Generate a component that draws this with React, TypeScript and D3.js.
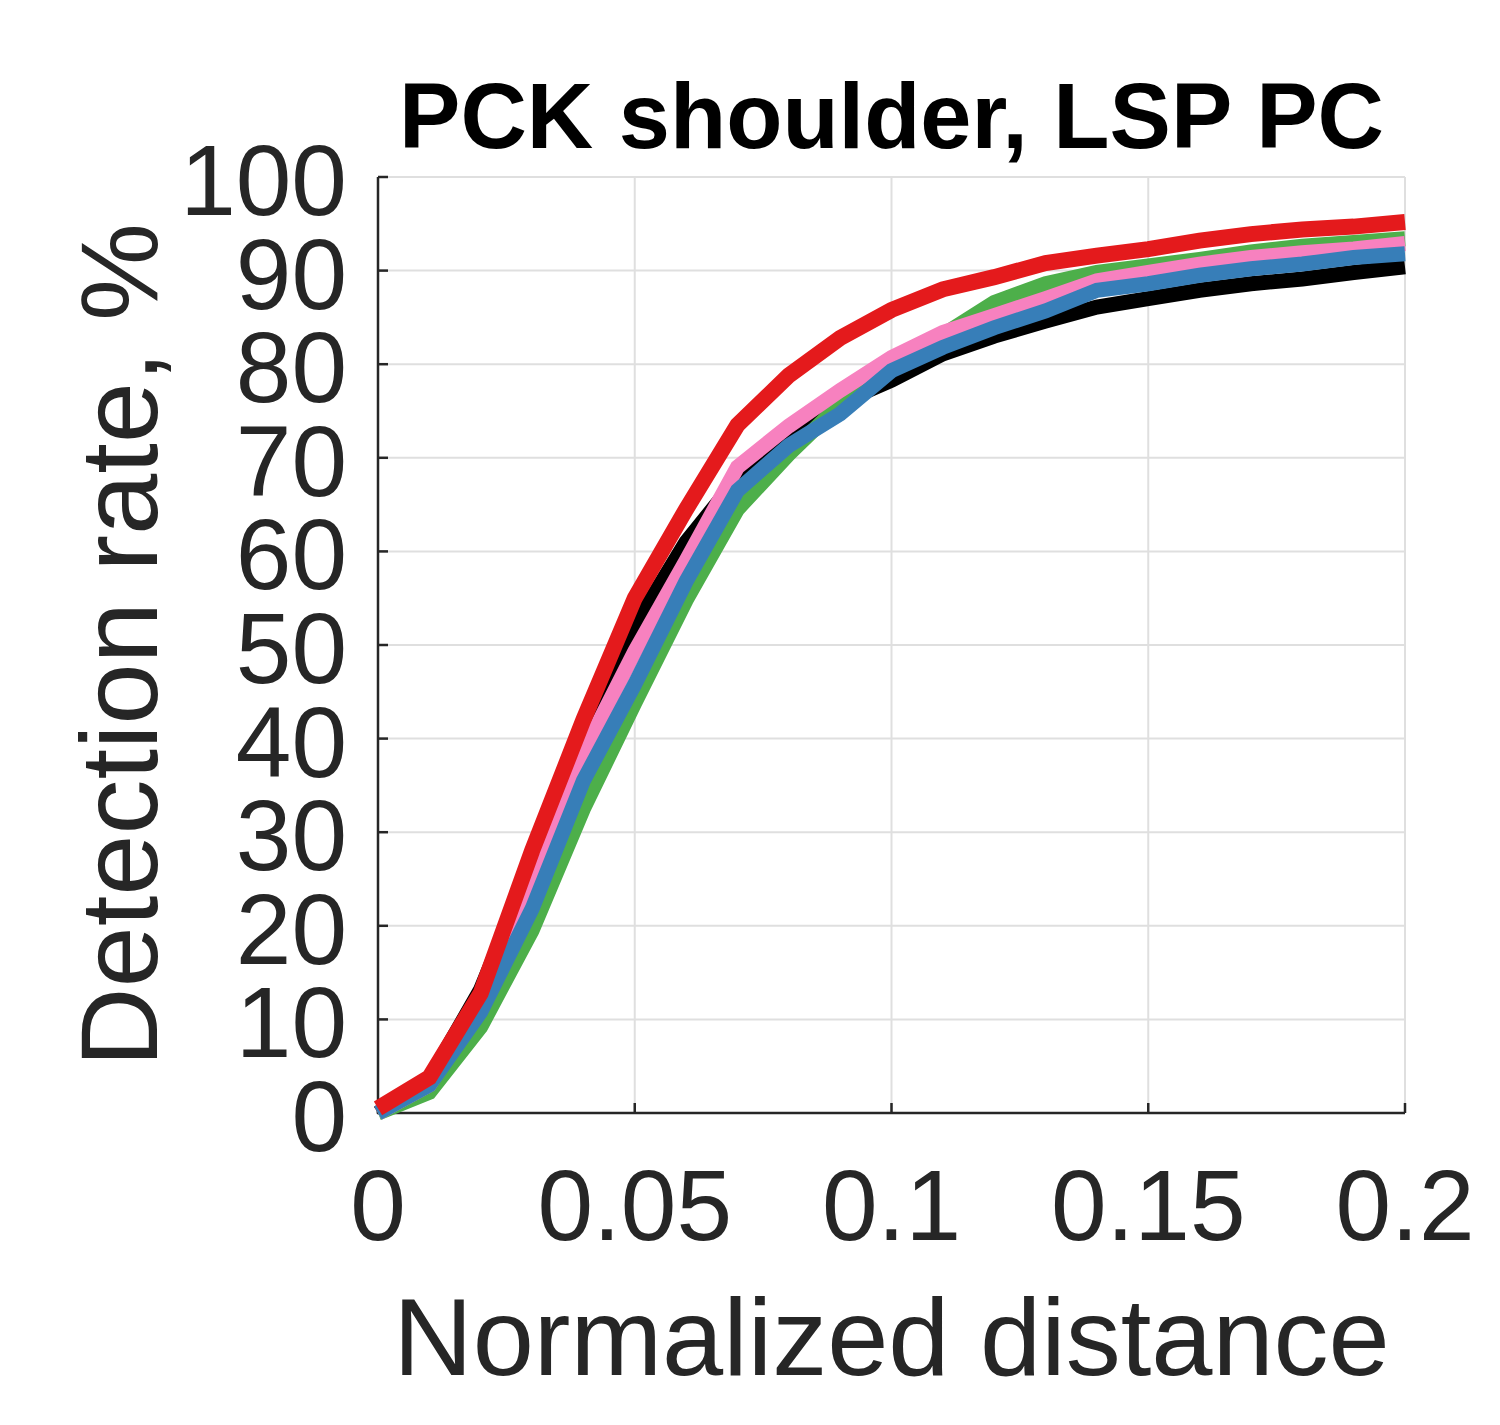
import * as d3 from "d3";

// normalized distance thresholds
const thresholds = [0, 0.01, 0.02, 0.03, 0.04, 0.05, 0.06, 0.07, 0.08, 0.09, 0.1,
  0.11, 0.12, 0.13, 0.14, 0.15, 0.16, 0.17, 0.18, 0.19, 0.2];

// detection rate (%) per method
const blackSeries = [0, 3.6, 13.2, 26.5, 40.5, 52, 61, 67.8, 72.2, 75.9, 78.3, 81.1, 83, 84.6, 86.1, 87, 87.9, 88.6, 89.1, 89.8, 90.4];
const greenSeries = [0, 2.2, 9.2, 19.5, 32.5, 43.8, 54.8, 64.5, 70.4, 75.7, 80, 83.1, 86.6, 88.6, 89.8, 90.5, 91.2, 92, 92.6, 93, 93.4];
const pinkSeries = [0, 3, 11.5, 24, 38.5, 49.3, 59, 69, 73.4, 77.2, 80.7, 83.4, 85.2, 87, 88.9, 89.8, 90.7, 91.4, 91.9, 92.3, 92.9];
const blueSeries = [0, 3, 10.8, 21.8, 35.5, 45.8, 56.8, 66.5, 71.3, 74.7, 79.3, 81.8, 83.9, 85.7, 87.9, 88.6, 89.5, 90.2, 90.7, 91.4, 91.8];
const redSeries = [0.5, 3.8, 12.8, 28, 42, 55, 64.5, 73.5, 78.8, 82.8, 85.8, 88, 89.3, 90.8, 91.6, 92.3, 93.2, 93.9, 94.4, 94.7, 95.2];

const xTicks = [0, 0.05, 0.1, 0.15, 0.2];
const yTicks = [0, 10, 20, 30, 40, 50, 60, 70, 80, 90, 100];

const series = [
  { name: "black", color: "#000000", values: blackSeries, width: 15 },
  { name: "green", color: "#4daf4a", values: greenSeries, width: 15 },
  { name: "pink", color: "#f781bf", values: pinkSeries, width: 15 },
  { name: "blue", color: "#377eb8", values: blueSeries, width: 15 },
  { name: "red", color: "#e41a1c", values: redSeries, width: 16 },
];

export default function App() {
  const width = 1500;
  const height = 1425;
  const left = 378, right = 1405, top = 177, bottom = 1113;
  const axisColor = "#262626";
  const font = "'Liberation Sans', Arial, Helvetica, sans-serif";

  const x = d3.scaleLinear().domain([0, 0.2]).range([left, right]);
  const y = d3.scaleLinear().domain([0, 100]).range([bottom, top]);

  const line = d3.line<number>()
    .x((_, i) => x(thresholds[i]))
    .y(d => y(d));

  return (
    <svg width={width} height={height} style={{ position: "absolute", left: 0, top: 0, background: "#fff" }}>
      {/* grid */}
      <g stroke="#dfdfdf" strokeWidth={2}>
        {yTicks.map(t => (
          <line key={"gy" + t} x1={left} x2={right} y1={y(t)} y2={y(t)} />
        ))}
        {xTicks.map(t => (
          <line key={"gx" + t} x1={x(t)} x2={x(t)} y1={top} y2={bottom} />
        ))}
      </g>

      {/* axes */}
      <g stroke={axisColor} strokeWidth={2.5}>
        <line x1={left} x2={left} y1={top} y2={bottom + 1} />
        <line x1={left - 1} x2={right} y1={bottom} y2={bottom} />
        {yTicks.map(t => (
          <line key={"ty" + t} x1={left} x2={left + 10} y1={y(t)} y2={y(t)} />
        ))}
        {xTicks.map(t => (
          <line key={"tx" + t} x1={x(t)} x2={x(t)} y1={bottom} y2={bottom - 10} />
        ))}
      </g>

      {/* curves */}
      <g fill="none" strokeLinecap="butt" strokeLinejoin="miter">
        {series.map(s => (
          <path key={s.name} d={line(s.values) || ""} stroke={s.color} strokeWidth={s.width} />
        ))}
      </g>

      {/* tick labels */}
      <g fontFamily={font} fontSize={100} fill={axisColor}>
        {yTicks.map(t => (
          <text key={"ly" + t} x={347} y={y(t)} dy="0.38em" textAnchor="end">{t}</text>
        ))}
        {xTicks.map(t => (
          <text key={"lx" + t} x={x(t)} y={bottom + 127} textAnchor="middle">{t}</text>
        ))}
      </g>

      {/* axis labels */}
      <text x={(left + right) / 2} y={1375} textAnchor="middle" fontFamily={font} fontSize={110} fill={axisColor}>
        Normalized distance
      </text>
      <text
        transform={`translate(157, ${(top + bottom) / 2}) rotate(-90)`}
        textAnchor="middle" fontFamily={font} fontSize={110} fill={axisColor}
      >
        Detection rate, %
      </text>

      {/* title */}
      <text x={(left + right) / 2} y={148} textAnchor="middle" fontFamily={font} fontSize={92} fontWeight="bold" fill="#000">
        PCK shoulder, LSP PC
      </text>
    </svg>
  );
}
